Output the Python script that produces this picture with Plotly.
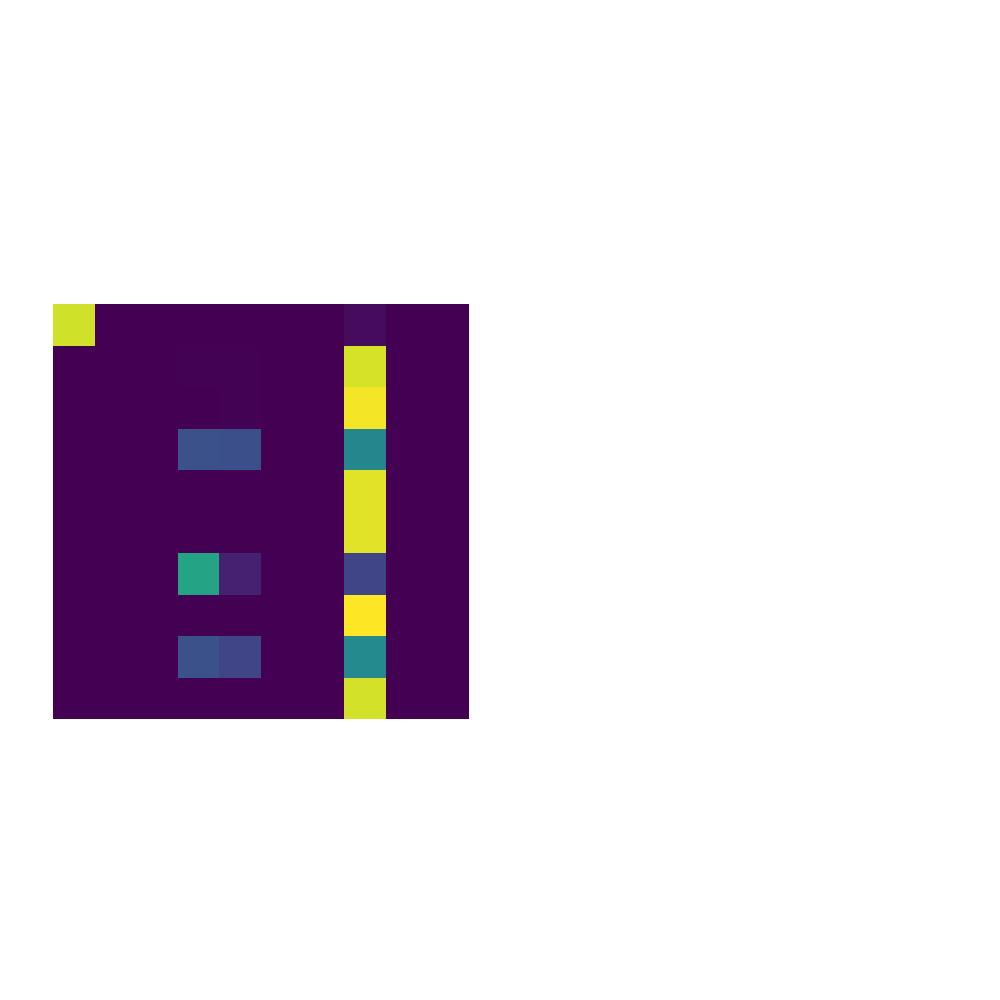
import plotly.graph_objects as go

columns = [f"c{i}" for i in range(10)]
rows = [f"r{i}" for i in range(10)]

# values (0 = dark purple, 1 = yellow)
row0 = [0.93, 0.00, 0.00, 0.00, 0.00, 0.00, 0.00, 0.03, 0.00, 0.00]
row1 = [0.00, 0.00, 0.00, 0.004, 0.004, 0.00, 0.00, 0.94, 0.00, 0.00]
row2 = [0.00, 0.00, 0.00, 0.00, 0.004, 0.00, 0.00, 0.985, 0.00, 0.00]
row3 = [0.00, 0.00, 0.00, 0.25, 0.245, 0.00, 0.00, 0.46, 0.00, 0.00]
row4 = [0.00, 0.00, 0.00, 0.00, 0.00, 0.00, 0.00, 0.955, 0.00, 0.00]
row5 = [0.00, 0.00, 0.00, 0.00, 0.00, 0.00, 0.00, 0.955, 0.00, 0.00]
row6 = [0.00, 0.00, 0.00, 0.58, 0.09, 0.00, 0.00, 0.21, 0.00, 0.00]
row7 = [0.00, 0.00, 0.00, 0.00, 0.00, 0.00, 0.00, 1.00, 0.00, 0.00]
row8 = [0.00, 0.00, 0.00, 0.25, 0.21, 0.00, 0.00, 0.475, 0.00, 0.00]
row9 = [0.00, 0.00, 0.00, 0.00, 0.00, 0.00, 0.00, 0.935, 0.00, 0.00]

z = [row0, row1, row2, row3, row4, row5, row6, row7, row8, row9]

fig = go.Figure(
    go.Heatmap(
        z=z,
        x=columns,
        y=rows,
        colorscale="Viridis",
        zmin=0,
        zmax=1,
        showscale=False,
        hoverongaps=False,
    )
)

fig.update_layout(
    width=1000,
    height=1000,
    margin=dict(l=0, r=0, t=0, b=0),
    paper_bgcolor="white",
    plot_bgcolor="white",
    xaxis=dict(domain=[0.053, 0.469], visible=False),
    yaxis=dict(domain=[0.281, 0.696], visible=False, autorange="reversed"),
)

fig.write_html("out.html")
